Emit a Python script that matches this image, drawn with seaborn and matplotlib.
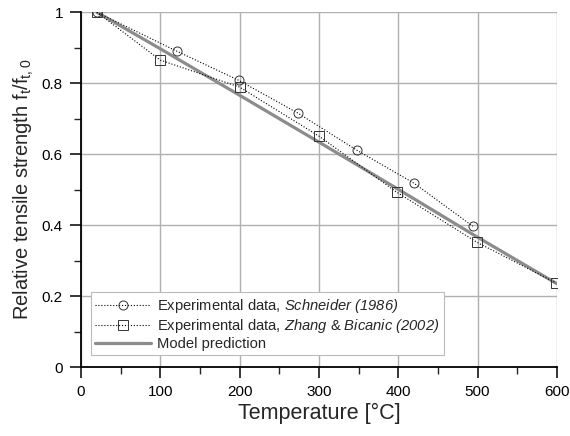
import numpy as np
import pandas as pd
import matplotlib
matplotlib.use("Agg")
import matplotlib.pyplot as plt
import seaborn as sns
from matplotlib.ticker import MultipleLocator

# data
schneider_T = [20, 121, 199, 274, 348, 420, 494]
schneider_f = [1.0, 0.89, 0.808, 0.715, 0.611, 0.518, 0.397]
zhang_T = [20, 100, 200, 300, 398, 499, 599]
zhang_f = [1.0, 0.865, 0.789, 0.651, 0.493, 0.352, 0.237]
model_T = [20, 100, 200, 300, 400, 500, 600]
model_f = [1.0, 0.897, 0.766, 0.634, 0.501, 0.366, 0.235]

sns.set_style("ticks")
plt.rcParams['font.family'] = ['Liberation Sans', 'DejaVu Sans']
plt.rcParams['mathtext.fontset'] = 'custom'
plt.rcParams['mathtext.rm'] = 'Liberation Sans'
# bf slot used for the italic author names (keeps digits italic too)
plt.rcParams['mathtext.bf'] = 'Liberation Sans:italic'
plt.rcParams['mathtext.it'] = 'Liberation Sans:italic'

fig = plt.figure(figsize=(5.7, 4.36), dpi=100)
ax = fig.add_axes([0.142, 0.158, 0.835, 0.814])

sch = pd.DataFrame({'T': schneider_T, 'f': schneider_f})
zh = pd.DataFrame({'T': zhang_T, 'f': zhang_f})
mod = pd.DataFrame({'T': model_T, 'f': model_f})

sns.lineplot(data=mod, x='T', y='f', ax=ax, color='#8c8c8c', lw=2.3,
             label='Model prediction', zorder=3)
sns.lineplot(data=sch, x='T', y='f', ax=ax, color='black', lw=0.8, ls=':',
             marker='o', markersize=6.5, markerfacecolor='none',
             markeredgecolor='#333333', markeredgewidth=0.7,
             label='Experimental data, $\\mathbf{Schneider\\ (1986)}$', zorder=4)
sns.lineplot(data=zh, x='T', y='f', ax=ax, color='black', lw=0.8, ls=':',
             marker='s', markersize=6.5, markerfacecolor='none',
             markeredgecolor='#333333', markeredgewidth=0.7,
             label='Experimental data, $\\mathbf{Zhang}$ & $\\mathbf{Bicanic\\ (2002)}$', zorder=4)

ax.set_xlim(0, 600)
ax.set_ylim(0, 1)
ax.xaxis.set_minor_locator(MultipleLocator(50))
ax.yaxis.set_minor_locator(MultipleLocator(0.1))
ax.set_xticks(range(0, 601, 100))
ax.set_yticks([0, 0.2, 0.4, 0.6, 0.8, 1.0])
ax.set_yticklabels(['0', '0.2', '0.4', '0.6', '0.8', '1'])

ax.grid(True, which='major', color='#b0b0b0', lw=1)
ax.tick_params(which='major', direction='out', length=8, width=1.1,
               labelsize=11, colors='black', pad=5)
ax.tick_params(which='minor', direction='out', length=5, width=1.0)
for s in ['top', 'right']:
    ax.spines[s].set_visible(False)
for s in ['left', 'bottom']:
    ax.spines[s].set_linewidth(1.3)
    ax.spines[s].set_color('black')

ax.set_xlabel('Temperature [°C]', fontsize=15.5, labelpad=3)
ax.set_ylabel('Relative tensile strength f$_\\mathrm{t}$/f$_\\mathrm{t,0}$', fontsize=14.5, labelpad=4)

handles, labels = ax.get_legend_handles_labels()
order = [1, 2, 0]
leg = ax.legend([handles[i] for i in order], [labels[i] for i in order],
                loc='lower left', bbox_to_anchor=(0.005, 0.012), fontsize=10.6,
                handlelength=3.8, handletextpad=0.4, frameon=True, fancybox=False,
                edgecolor='#bbbbbb', framealpha=1, borderpad=0.3,
                labelspacing=0.15)
leg.get_frame().set_linewidth(0.8)

fig.savefig('out.png', dpi=100)
